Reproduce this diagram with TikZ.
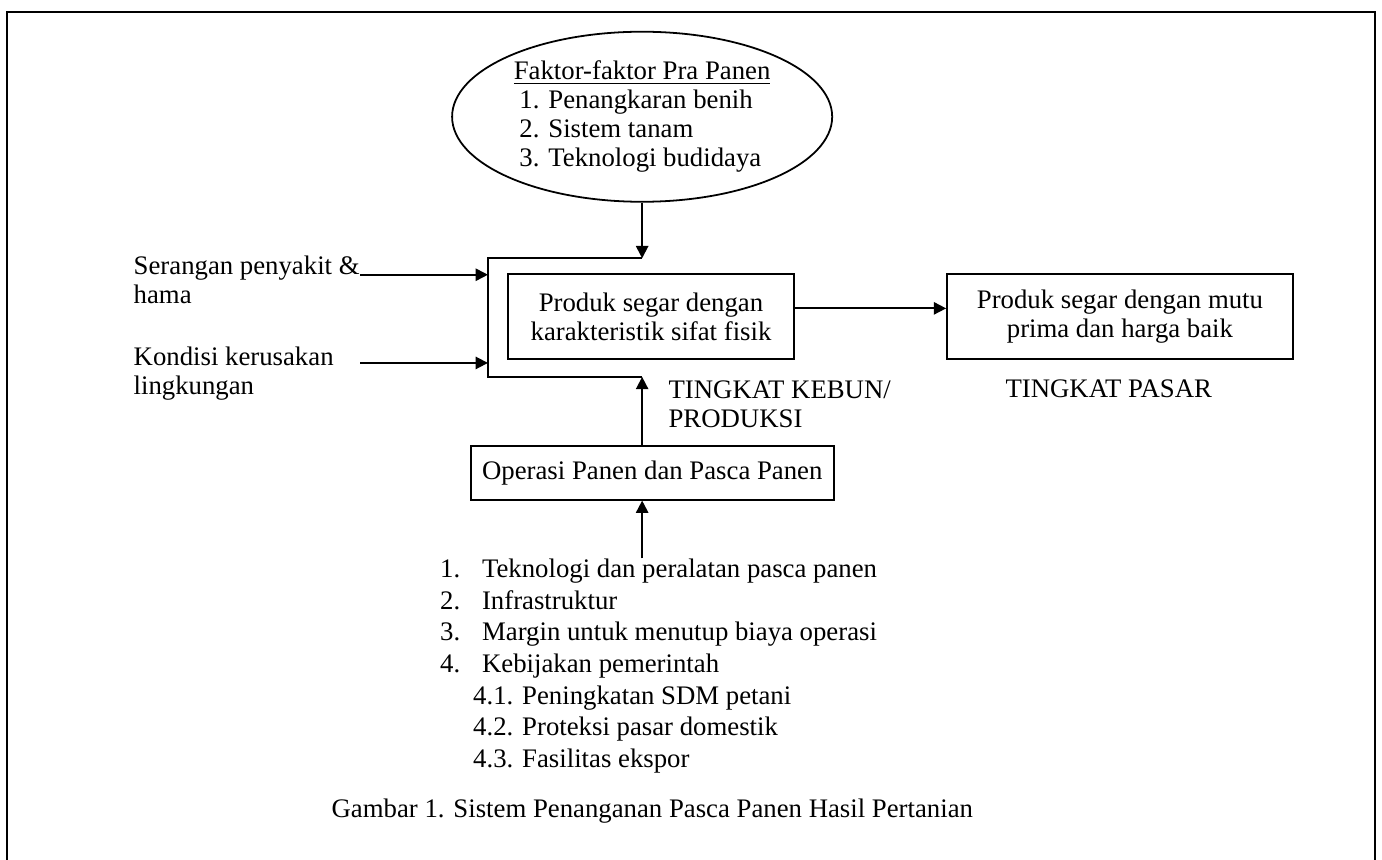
\documentclass[tikz,border=0pt]{standalone}
\usepackage{fontspec}
\setmainfont{Liberation Serif}
\usepackage{tikz}
\usetikzlibrary{arrows.meta, calc, shapes.geometric}

\begin{document}
\begin{tikzpicture}[
    font=\fontsize{12}{13}\selectfont,
    kotak/.style={rectangle, draw=black, line width=0.8pt, inner sep=0pt,
                  align=center},
    teks/.style={inner sep=0pt, align=left},
    panah/.style={line width=0.8pt, -{Triangle[length=5.5pt, width=5.5pt]}},
    bingkai/.style={line width=1.2pt}
  ]
  \useasboundingbox (0,0) rectangle (21.78,-13.55);

  % Frame (open at the bottom)
  \draw[bingkai] (0.11,-13.7) -- (0.11,-0.19) -- (21.67,-0.19) -- (21.67,-13.7);

  % Pre-harvest factors
  \node[ellipse, draw, line width=0.8pt, minimum width=5.99cm, minimum height=2.68cm,
        inner sep=0pt, align=left] (pra) at (10.12,-1.84)
    {\underline{Faktor-faktor Pra Panen}\\
     \hspace*{2.5pt}1. Penangkaran benih\\
     \hspace*{2.5pt}2. Sistem tanam\\
     \hspace*{2.5pt}3. Teknologi budidaya};

  % Products
  \node[kotak, minimum width=4.51cm, minimum height=1.34cm] (prod) at (10.26,-4.99)
    {Produk segar dengan\\karakteristik sifat fisik};
  \node[kotak, minimum width=5.45cm, minimum height=1.34cm] (pasar) at (17.65,-4.99)
    {Produk segar dengan mutu\\prima dan harga baik};
  \node[teks, anchor=north west] (kebun) at (10.53,-5.99) {TINGKAT KEBUN/\\PRODUKSI};
  \node[teks, anchor=base west] (tpasar) at (15.84,-6.27) {TINGKAT PASAR};

  % Bracket round the product box
  \coordinate (brt) at (10.12,-4.07);
  \coordinate (brl) at (7.69,-5.94);
  \coordinate (brb) at (10.12,-5.94);
  \coordinate (in1) at (7.69,-4.33);
  \coordinate (in2) at (7.69,-5.72);
  \draw[line width=0.8pt] (brt) -| (brl) -- (brb);

  % Outside influences
  \node[teks, anchor=north west] (serangan) at (2.10,-4.03) {Serangan penyakit \&\\hama};
  \node[teks, anchor=north west] (kondisi) at (2.10,-5.46) {Kondisi kerusakan\\lingkungan};

  % Harvest operations
  \node[kotak, minimum width=5.72cm, minimum height=0.85cm] (ops) at (10.28,-7.45)
    {Operasi Panen dan Pasca Panen};
  \node[teks, anchor=north west, font=\fontsize{12}{14.2}\selectfont] (daftar) at (6.93,-8.80)
    {\makebox[18.8pt][l]{1.}Teknologi dan peralatan pasca panen\\
     \makebox[18.8pt][l]{2.}Infrastruktur\\
     \makebox[18.8pt][l]{3.}Margin untuk menutup biaya operasi\\
     \makebox[18.8pt][l]{4.}Kebijakan pemerintah\\
     \hspace*{14.8pt}4.1. Peningkatan SDM petani\\
     \hspace*{14.8pt}4.2. Proteksi pasar domestik\\
     \hspace*{14.8pt}4.3. Fasilitas ekspor};

  \node[anchor=base, inner sep=0pt] (judul) at (10.28,-12.88)
    {Gambar 1. Sistem Penanganan Pasca Panen Hasil Pertanian};

  % Arrows
  \draw[panah] (pra.south) -- (pra.south |- brt);
  \draw[panah] (in1 -| serangan.east) -- (in1);
  \draw[panah] (in2 -| serangan.east) -- (in2);
  \draw[panah] ([yshift=1.3mm]prod.east) -- ([yshift=1.3mm]prod.east -| pasar.west);
  \draw[panah] (brb |- ops.north) -- (brb);
  \draw[panah] (brb |- daftar.north) -- (brb |- ops.south);
\end{tikzpicture}
\end{document}
